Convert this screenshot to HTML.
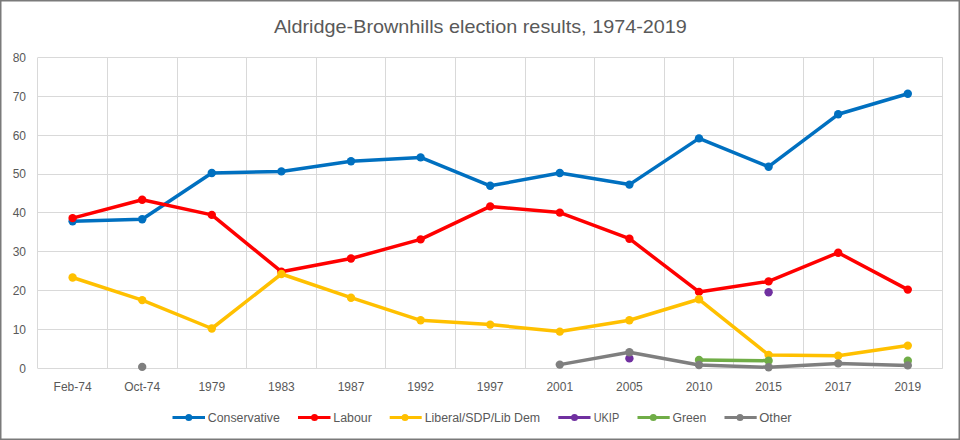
<!DOCTYPE html><html><head><meta charset="utf-8"><style>html,body{margin:0;padding:0;background:#fff;}svg{display:block;}text{font-family:"Liberation Sans",sans-serif;fill:#595959;}</style></head><body>
<svg width="960" height="440" viewBox="0 0 960 440">
<rect x="0" y="0" width="960" height="440" fill="#fff"/>
<path d="M37.8 368.5H942.6 M37.8 329.5H942.6 M37.8 290.5H942.6 M37.8 251.5H942.6 M37.8 212.5H942.6 M37.8 174.5H942.6 M37.8 135.5H942.6 M37.8 96.5H942.6 M37.8 57.5H942.6 M37.5 57.5V368.5 M107.5 57.5V368.5 M177.5 57.5V368.5 M246.5 57.5V368.5 M316.5 57.5V368.5 M385.5 57.5V368.5 M455.5 57.5V368.5 M525.5 57.5V368.5 M594.5 57.5V368.5 M664.5 57.5V368.5 M733.5 57.5V368.5 M803.5 57.5V368.5 M873.5 57.5V368.5 M942.5 57.5V368.5" stroke="#D9D9D9" stroke-width="1" fill="none"/>
<text x="26" y="372.8" font-size="12" text-anchor="end">0</text>
<text x="26" y="333.9" font-size="12" text-anchor="end">10</text>
<text x="26" y="295.1" font-size="12" text-anchor="end">20</text>
<text x="26" y="256.2" font-size="12" text-anchor="end">30</text>
<text x="26" y="217.3" font-size="12" text-anchor="end">40</text>
<text x="26" y="178.4" font-size="12" text-anchor="end">50</text>
<text x="26" y="139.6" font-size="12" text-anchor="end">60</text>
<text x="26" y="100.7" font-size="12" text-anchor="end">70</text>
<text x="26" y="61.8" font-size="12" text-anchor="end">80</text>
<text x="72.6" y="390.5" font-size="12" text-anchor="middle">Feb-74</text>
<text x="142.2" y="390.5" font-size="12" text-anchor="middle">Oct-74</text>
<text x="211.8" y="390.5" font-size="12" text-anchor="middle">1979</text>
<text x="281.4" y="390.5" font-size="12" text-anchor="middle">1983</text>
<text x="351.0" y="390.5" font-size="12" text-anchor="middle">1987</text>
<text x="420.6" y="390.5" font-size="12" text-anchor="middle">1992</text>
<text x="490.2" y="390.5" font-size="12" text-anchor="middle">1997</text>
<text x="559.8" y="390.5" font-size="12" text-anchor="middle">2001</text>
<text x="629.4" y="390.5" font-size="12" text-anchor="middle">2005</text>
<text x="699.0" y="390.5" font-size="12" text-anchor="middle">2010</text>
<text x="768.6" y="390.5" font-size="12" text-anchor="middle">2015</text>
<text x="838.2" y="390.5" font-size="12" text-anchor="middle">2017</text>
<text x="907.8" y="390.5" font-size="12" text-anchor="middle">2019</text>
<path d="M72.6 221.2 L142.2 219.2 L211.8 173.0 L281.4 171.4 L351.0 161.3 L420.6 157.4 L490.2 185.8 L559.8 173.0 L629.4 184.6 L699.0 138.4 L768.6 166.7 L838.2 114.3 L907.8 93.7" stroke="#0070C0" stroke-width="3.5" fill="none" stroke-linejoin="round" stroke-linecap="round"/>
<circle cx="72.6" cy="221.2" r="4.2" fill="#0070C0"/>
<circle cx="142.2" cy="219.2" r="4.2" fill="#0070C0"/>
<circle cx="211.8" cy="173.0" r="4.2" fill="#0070C0"/>
<circle cx="281.4" cy="171.4" r="4.2" fill="#0070C0"/>
<circle cx="351.0" cy="161.3" r="4.2" fill="#0070C0"/>
<circle cx="420.6" cy="157.4" r="4.2" fill="#0070C0"/>
<circle cx="490.2" cy="185.8" r="4.2" fill="#0070C0"/>
<circle cx="559.8" cy="173.0" r="4.2" fill="#0070C0"/>
<circle cx="629.4" cy="184.6" r="4.2" fill="#0070C0"/>
<circle cx="699.0" cy="138.4" r="4.2" fill="#0070C0"/>
<circle cx="768.6" cy="166.7" r="4.2" fill="#0070C0"/>
<circle cx="838.2" cy="114.3" r="4.2" fill="#0070C0"/>
<circle cx="907.8" cy="93.7" r="4.2" fill="#0070C0"/>
<path d="M72.6 218.1 L142.2 199.8 L211.8 214.9 L281.4 271.7 L351.0 258.5 L420.6 239.4 L490.2 206.4 L559.8 212.6 L629.4 238.7 L699.0 291.9 L768.6 281.4 L838.2 252.7 L907.8 289.6" stroke="#FF0000" stroke-width="3.5" fill="none" stroke-linejoin="round" stroke-linecap="round"/>
<circle cx="72.6" cy="218.1" r="4.2" fill="#FF0000"/>
<circle cx="142.2" cy="199.8" r="4.2" fill="#FF0000"/>
<circle cx="211.8" cy="214.9" r="4.2" fill="#FF0000"/>
<circle cx="281.4" cy="271.7" r="4.2" fill="#FF0000"/>
<circle cx="351.0" cy="258.5" r="4.2" fill="#FF0000"/>
<circle cx="420.6" cy="239.4" r="4.2" fill="#FF0000"/>
<circle cx="490.2" cy="206.4" r="4.2" fill="#FF0000"/>
<circle cx="559.8" cy="212.6" r="4.2" fill="#FF0000"/>
<circle cx="629.4" cy="238.7" r="4.2" fill="#FF0000"/>
<circle cx="699.0" cy="291.9" r="4.2" fill="#FF0000"/>
<circle cx="768.6" cy="281.4" r="4.2" fill="#FF0000"/>
<circle cx="838.2" cy="252.7" r="4.2" fill="#FF0000"/>
<circle cx="907.8" cy="289.6" r="4.2" fill="#FF0000"/>
<path d="M72.6 277.5 L142.2 300.1 L211.8 328.5 L281.4 274.0 L351.0 297.7 L420.6 320.3 L490.2 324.6 L559.8 331.6 L629.4 320.3 L699.0 299.3 L768.6 354.9 L838.2 355.7 L907.8 345.6" stroke="#FFC000" stroke-width="3.5" fill="none" stroke-linejoin="round" stroke-linecap="round"/>
<circle cx="72.6" cy="277.5" r="4.2" fill="#FFC000"/>
<circle cx="142.2" cy="300.1" r="4.2" fill="#FFC000"/>
<circle cx="211.8" cy="328.5" r="4.2" fill="#FFC000"/>
<circle cx="281.4" cy="274.0" r="4.2" fill="#FFC000"/>
<circle cx="351.0" cy="297.7" r="4.2" fill="#FFC000"/>
<circle cx="420.6" cy="320.3" r="4.2" fill="#FFC000"/>
<circle cx="490.2" cy="324.6" r="4.2" fill="#FFC000"/>
<circle cx="559.8" cy="331.6" r="4.2" fill="#FFC000"/>
<circle cx="629.4" cy="320.3" r="4.2" fill="#FFC000"/>
<circle cx="699.0" cy="299.3" r="4.2" fill="#FFC000"/>
<circle cx="768.6" cy="354.9" r="4.2" fill="#FFC000"/>
<circle cx="838.2" cy="355.7" r="4.2" fill="#FFC000"/>
<circle cx="907.8" cy="345.6" r="4.2" fill="#FFC000"/>
<circle cx="629.4" cy="358.4" r="4.2" fill="#7030A0"/>
<circle cx="768.6" cy="292.3" r="4.2" fill="#7030A0"/>
<path d="M699.0 359.9 L768.6 360.7" stroke="#70AD47" stroke-width="3.5" fill="none" stroke-linejoin="round" stroke-linecap="round"/>
<circle cx="699.0" cy="359.9" r="4.2" fill="#70AD47"/>
<circle cx="768.6" cy="360.7" r="4.2" fill="#70AD47"/>
<circle cx="907.8" cy="360.7" r="4.2" fill="#70AD47"/>
<path d="M559.8 364.6 L629.4 352.2 L699.0 365.0 L768.6 367.3 L838.2 363.4 L907.8 365.4" stroke="#7F7F7F" stroke-width="3.5" fill="none" stroke-linejoin="round" stroke-linecap="round"/>
<circle cx="142.2" cy="366.9" r="4.2" fill="#7F7F7F"/>
<circle cx="559.8" cy="364.6" r="4.2" fill="#7F7F7F"/>
<circle cx="629.4" cy="352.2" r="4.2" fill="#7F7F7F"/>
<circle cx="699.0" cy="365.0" r="4.2" fill="#7F7F7F"/>
<circle cx="768.6" cy="367.3" r="4.2" fill="#7F7F7F"/>
<circle cx="838.2" cy="363.4" r="4.2" fill="#7F7F7F"/>
<circle cx="907.8" cy="365.4" r="4.2" fill="#7F7F7F"/>
<text x="480.4" y="32.8" font-size="18.5" text-anchor="middle" textLength="413" lengthAdjust="spacingAndGlyphs">Aldridge-Brownhills election results, 1974-2019</text>
<path d="M172.5 417.5H205" stroke="#0070C0" stroke-width="3"/>
<circle cx="188.8" cy="417.5" r="3.5" fill="#0070C0"/>
<text x="207.8" y="421.7" font-size="12" textLength="72" lengthAdjust="spacingAndGlyphs">Conservative</text>
<path d="M298 417.5H330.5" stroke="#FF0000" stroke-width="3"/>
<circle cx="314.5" cy="417.5" r="3.5" fill="#FF0000"/>
<text x="333.3" y="421.7" font-size="12" textLength="38.5" lengthAdjust="spacingAndGlyphs">Labour</text>
<path d="M389.7 417.5H421.7" stroke="#FFC000" stroke-width="3"/>
<circle cx="405" cy="417.5" r="3.5" fill="#FFC000"/>
<text x="424.7" y="421.7" font-size="12" textLength="115.5" lengthAdjust="spacingAndGlyphs">Liberal/SDP/Lib Dem</text>
<path d="M558.3 417.5H590.5" stroke="#7030A0" stroke-width="3"/>
<circle cx="574.5" cy="417.5" r="3.5" fill="#7030A0"/>
<text x="593.7" y="421.7" font-size="12" textLength="25.5" lengthAdjust="spacingAndGlyphs">UKIP</text>
<path d="M637.5 417.5H669.7" stroke="#70AD47" stroke-width="3"/>
<circle cx="653.3" cy="417.5" r="3.5" fill="#70AD47"/>
<text x="672.5" y="421.7" font-size="12" textLength="33.8" lengthAdjust="spacingAndGlyphs">Green</text>
<path d="M724.5 417.5H756.7" stroke="#7F7F7F" stroke-width="3"/>
<circle cx="740" cy="417.5" r="3.5" fill="#7F7F7F"/>
<text x="759.2" y="421.7" font-size="12" textLength="32.5" lengthAdjust="spacingAndGlyphs">Other</text>
<rect x="0.75" y="0.75" width="958.5" height="438.5" fill="none" stroke="#7a7a7a" stroke-width="1.5"/>
</svg></body></html>
